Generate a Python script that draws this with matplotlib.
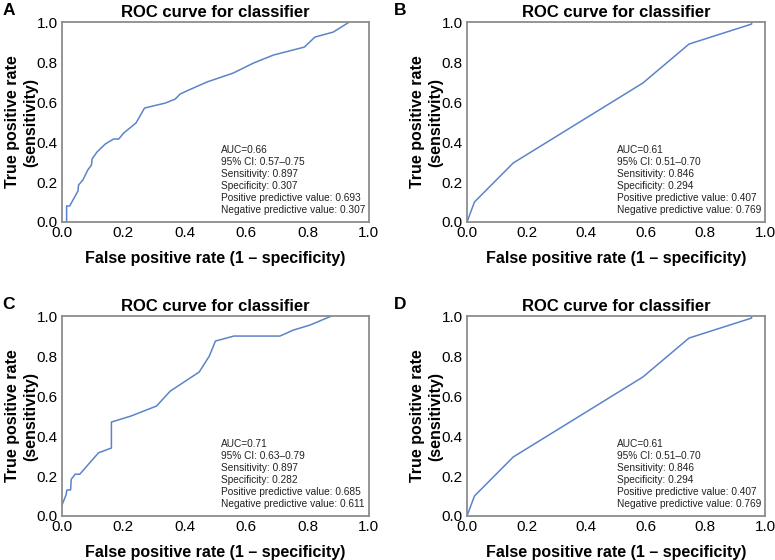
import matplotlib
matplotlib.use("Agg")
import matplotlib.pyplot as plt

plt.rcParams["font.family"] = ["Liberation Sans", "DejaVu Sans"]

# ROC curve points
fpr_a = [0.015, 0.015, 0.025, 0.052, 0.054, 0.068, 0.084, 0.096, 0.098, 0.114, 0.141,
         0.168, 0.185, 0.201, 0.241, 0.269, 0.337, 0.369, 0.385, 0.413, 0.472, 0.558,
         0.624, 0.689, 0.79, 0.824, 0.884, 0.936]
tpr_a = [0.0, 0.08, 0.08, 0.155, 0.185, 0.21, 0.26, 0.285, 0.315, 0.35, 0.39,
         0.415, 0.415, 0.445, 0.495, 0.57, 0.595, 0.615, 0.64, 0.66, 0.70, 0.745,
         0.795, 0.835, 0.875, 0.925, 0.95, 1.0]

fpr_b = [0.0, 0.025, 0.155, 0.59, 0.745, 0.955, 0.955]
tpr_b = [0.0, 0.10, 0.295, 0.695, 0.89, 0.99, 1.0]

fpr_c = [0.0, 0.013, 0.016, 0.028, 0.030, 0.043, 0.058, 0.119, 0.161, 0.161, 0.225,
         0.308, 0.353, 0.447, 0.48, 0.50, 0.56, 0.71, 0.754, 0.808, 0.878]
tpr_c = [0.055, 0.105, 0.13, 0.13, 0.183, 0.209, 0.209, 0.316, 0.34, 0.47, 0.50,
         0.55, 0.625, 0.72, 0.80, 0.875, 0.90, 0.90, 0.93, 0.955, 1.0]

fpr_d = fpr_b
tpr_d = tpr_b

stats_a = ["AUC=0.66", "95% CI: 0.57\u20130.75", "Sensitivity: 0.897", "Specificity: 0.307",
           "Positive predictive value: 0.693", "Negative predictive value: 0.307"]
stats_b = ["AUC=0.61", "95% CI: 0.51\u20130.70", "Sensitivity: 0.846", "Specificity: 0.294",
           "Positive predictive value: 0.407", "Negative predictive value: 0.769"]
stats_c = ["AUC=0.71", "95% CI: 0.63\u20130.79", "Sensitivity: 0.897", "Specificity: 0.282",
           "Positive predictive value: 0.685", "Negative predictive value: 0.611"]
stats_d = stats_b

panels = [
    ("A", [0.080, 0.6036, 0.396, 0.357], fpr_a, tpr_a, stats_a, 0.517),
    ("B", [0.6026, 0.6036, 0.3845, 0.357], fpr_b, tpr_b, stats_b, 0.504),
    ("C", [0.080, 0.0786, 0.396, 0.357], fpr_c, tpr_c, stats_c, 0.517),
    ("D", [0.6026, 0.0786, 0.3845, 0.357], fpr_d, tpr_d, stats_d, 0.504),
]

letter_pos = {"A": (0.003, 0.995), "B": (0.508, 0.995), "C": (0.003, 0.47), "D": (0.508, 0.47)}

fig = plt.figure(figsize=(7.75, 5.6), dpi=100)

for name, rect, fpr, tpr, stats, tx in panels:
    ax = fig.add_axes(rect)
    ax.plot(fpr, tpr, color="#5b84c8", lw=1.1)
    ax.set_xlim(0, 1)
    ax.set_ylim(0, 1)
    ax.set_xticks([0, 0.2, 0.4, 0.6, 0.8, 1.0])
    ax.set_yticks([0, 0.2, 0.4, 0.6, 0.8, 1.0])
    ax.set_xticklabels(["0.0", "0.2", "0.4", "0.6", "0.8", "1.0"])
    ax.set_yticklabels(["0.0", "0.2", "0.4", "0.6", "0.8", "1.0"])
    ax.tick_params(length=0, labelsize=11, pad=3)
    for sp in ax.spines.values():
        sp.set_color("#8c8c8c")
        sp.set_linewidth(1.3)
    ax.set_title("ROC curve for classifier", fontsize=12, fontweight="bold", pad=4)
    ax.set_xlabel("False positive rate (1 \u2013 specificity)", fontsize=11.5,
                  fontweight="bold", labelpad=8)
    ax.set_ylabel("True positive rate\n(sensitivity)", fontsize=11.5,
                  fontweight="bold", labelpad=-1, linespacing=1.25)
    ax.text(tx, 0.035, "\n".join(stats), transform=ax.transAxes, fontsize=7.3,
            va="bottom", ha="left", linespacing=1.25, color="#222222")
    lx, ly = letter_pos[name]
    fig.text(lx, ly, name, fontsize=12.5, fontweight="bold", va="top", ha="left")

fig.savefig("out.png", dpi=100)
